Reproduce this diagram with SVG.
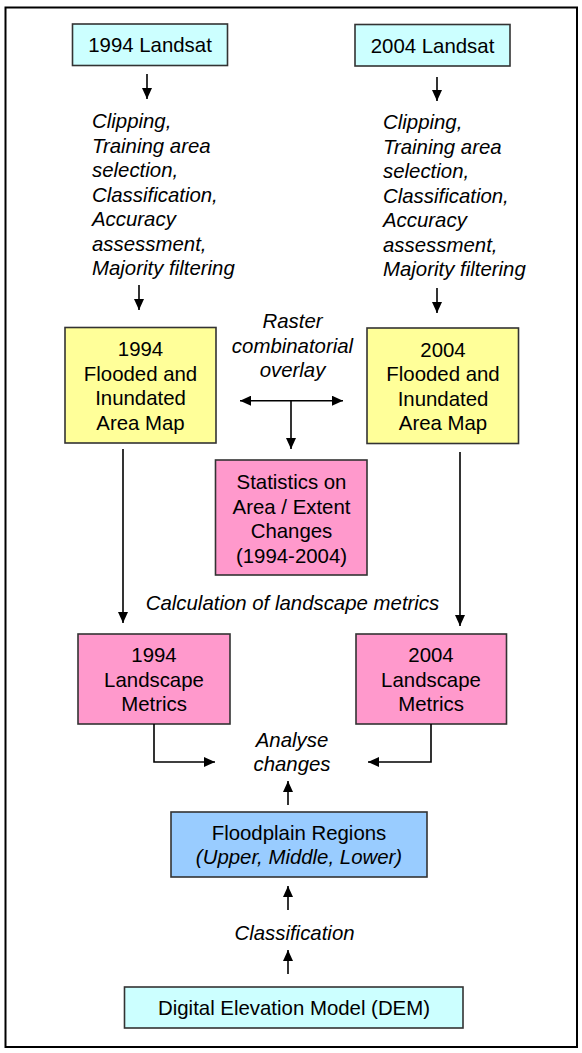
<svg xmlns="http://www.w3.org/2000/svg" width="582" height="1053" viewBox="0 0 582 1053">
<style>
text{font-family:"Liberation Sans",Arial,sans-serif;font-size:20.4px;fill:#000}
.i{font-style:italic}
.c{text-anchor:middle}
.box{stroke:#333;stroke-width:1.6}
.cyan{fill:#CCFFFF}.yel{fill:#FFFF99}.pink{fill:#FF99CC}.blue{fill:#99CCFF}
.ln{stroke:#000;stroke-width:1.6;fill:none}
</style>
<defs>
<marker id="ah" markerUnits="userSpaceOnUse" markerWidth="12" markerHeight="10" refX="11" refY="5" orient="auto-start-reverse">
<path d="M0,0 L11,5 L0,10 z" fill="#000"/>
</marker>
</defs>
<rect x="5.5" y="7.5" width="571.5" height="1039.5" fill="#fff" stroke="#000" stroke-width="2"/>

<g id="landsat1994"><rect class="box cyan" x="72.5" y="24" width="155" height="41.5"/><text class="c" x="150" y="52.3">1994 Landsat</text></g>
<g id="landsat2004"><rect class="box cyan" x="355" y="24.5" width="155" height="41.5"/><text class="c" x="432.5" y="52.8">2004 Landsat</text></g>

<g id="proc1994" class="i">
<text class="i" x="92" y="128">Clipping,</text>
<text class="i" x="92" y="152.5">Training area</text>
<text class="i" x="92" y="177">selection,</text>
<text class="i" x="92" y="201.5">Classification,</text>
<text class="i" x="92" y="226">Accuracy</text>
<text class="i" x="92" y="250.5">assessment,</text>
<text class="i" x="92" y="275">Majority filtering</text>
</g>
<g id="proc2004">
<text class="i" x="383" y="129">Clipping,</text>
<text class="i" x="383" y="153.5">Training area</text>
<text class="i" x="383" y="178">selection,</text>
<text class="i" x="383" y="202.5">Classification,</text>
<text class="i" x="383" y="227">Accuracy</text>
<text class="i" x="383" y="251.5">assessment,</text>
<text class="i" x="383" y="276">Majority filtering</text>
</g>

<g id="flood1994"><rect class="box yel" x="65" y="327.5" width="151" height="115.5"/>
<text class="c" x="140.5" y="356">1994</text><text class="c" x="140.5" y="380.5">Flooded and</text><text class="c" x="140.5" y="405">Inundated</text><text class="c" x="140.5" y="429.5">Area Map</text></g>
<g id="flood2004"><rect class="box yel" x="367" y="328" width="151.5" height="115.5"/>
<text class="c" x="443" y="356.5">2004</text><text class="c" x="443" y="381">Flooded and</text><text class="c" x="443" y="405.5">Inundated</text><text class="c" x="443" y="430">Area Map</text></g>

<g id="overlay"><text class="i c" x="292.5" y="328">Raster</text><text class="i c" x="292.5" y="352.5">combinatorial</text><text class="i c" x="292.5" y="377">overlay</text></g>

<g id="stats"><rect class="box pink" x="215.5" y="460" width="151.5" height="115"/>
<text class="c" x="291.5" y="489">Statistics on</text><text class="c" x="291.5" y="513.5">Area / Extent</text><text class="c" x="291.5" y="538">Changes</text><text class="c" x="291.5" y="562.5">(1994-2004)</text></g>

<g id="calc"><text class="i c" x="292.5" y="610">Calculation of landscape metrics</text></g>

<g id="metrics1994"><rect class="box pink" x="78" y="634" width="152" height="90"/>
<text class="c" x="154" y="662">1994</text><text class="c" x="154" y="686.5">Landscape</text><text class="c" x="154" y="711">Metrics</text></g>
<g id="metrics2004"><rect class="box pink" x="356" y="634" width="150.5" height="90"/>
<text class="c" x="431" y="662">2004</text><text class="c" x="431" y="686.5">Landscape</text><text class="c" x="431" y="711">Metrics</text></g>

<g id="analyse"><text class="i c" x="292" y="746.5">Analyse</text><text class="i c" x="292" y="770.5">changes</text></g>

<g id="floodplain"><rect class="box blue" x="171" y="812" width="256" height="65"/>
<text class="c" x="299" y="839.5">Floodplain Regions</text><text class="i c" x="299" y="864">(Upper, Middle, Lower)</text></g>

<g id="classif"><text class="i c" x="294.5" y="940">Classification</text></g>

<g id="dem"><rect class="box cyan" x="124.5" y="987" width="338.5" height="41"/>
<text class="c" x="294" y="1015">Digital Elevation Model (DEM)</text></g>

<g id="connectors" class="ln">
<line class="ln" x1="147" y1="74" x2="147" y2="99" marker-end="url(#ah)"/>
<line class="ln" x1="437" y1="77" x2="437" y2="101" marker-end="url(#ah)"/>
<line class="ln" x1="139" y1="285" x2="139" y2="310" marker-end="url(#ah)"/>
<line class="ln" x1="437" y1="288" x2="437" y2="313" marker-end="url(#ah)"/>
<line class="ln" x1="240" y1="400.7" x2="343" y2="400.7" marker-start="url(#ah)" marker-end="url(#ah)"/>
<line class="ln" x1="291" y1="400.7" x2="291" y2="449" marker-end="url(#ah)"/>
<line class="ln" x1="123" y1="449" x2="123" y2="623" marker-end="url(#ah)"/>
<line class="ln" x1="460" y1="452" x2="460" y2="626" marker-end="url(#ah)"/>
<path class="ln" d="M154,724 V762 H215" marker-end="url(#ah)"/>
<path class="ln" d="M431,724 V762 H368" marker-end="url(#ah)"/>
<line class="ln" x1="288" y1="805" x2="288" y2="781" marker-end="url(#ah)"/>
<line class="ln" x1="288" y1="910" x2="288" y2="886" marker-end="url(#ah)"/>
<line class="ln" x1="288" y1="974" x2="288" y2="950" marker-end="url(#ah)"/>
</g>
</svg>
